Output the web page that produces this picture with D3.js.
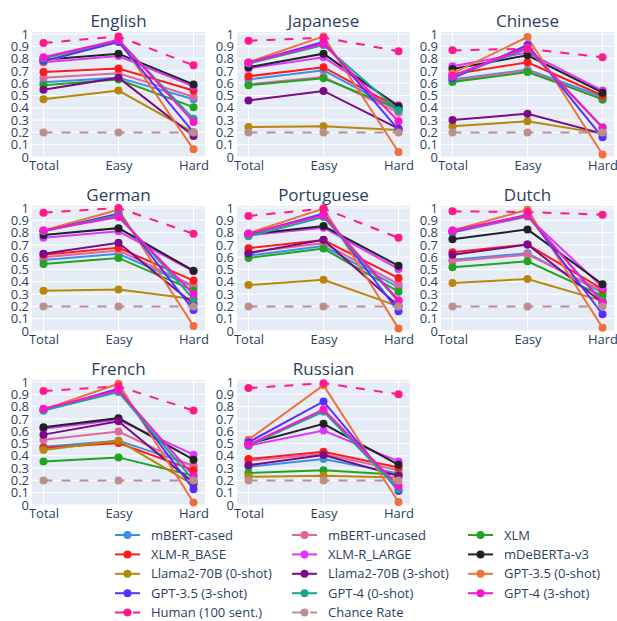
<!DOCTYPE html>
<html>
<head>
<meta charset="utf-8">
<script src="https://cdn.jsdelivr.net/npm/d3@7"></script>
<style>
  body { margin: 0; background: #fff; }
  svg { font-family: "Open Sans", verdana, arial, sans-serif; }
</style>
</head>
<body>
<div id="chart"></div>
<script>
// categories and series
const categories = ['Total', 'Easy', 'Hard'];
const languages = ['English', 'Japanese', 'Chinese', 'German', 'Portuguese', 'Dutch', 'French', 'Russian'];
const models = ['mBERT-cased', 'mBERT-uncased', 'XLM', 'XLM-R_BASE', 'XLM-R_LARGE', 'mDeBERTa-v3',
  'Llama2-70B (0-shot)', 'Llama2-70B (3-shot)', 'GPT-3.5 (0-shot)', 'GPT-3.5 (3-shot)',
  'GPT-4 (0-shot)', 'GPT-4 (3-shot)', 'Human (100 sent.)', 'Chance Rate'];
const colors = ['#3d8fe6', '#e0679b', '#22a322', '#ff1a1a', '#e033ff', '#222222',
  '#b8860b', '#7b0a86', '#f0703c', '#5630ff', '#16a58e', '#ff14cc', '#ff1a8c', '#bc8f8f'];
const dashed = ['Human (100 sent.)', 'Chance Rate'];

// one row per model, values for Total / Easy / Hard
const english = [
  [0.607, 0.645, 0.47], [0.645, 0.68, 0.49], [0.583, 0.63, 0.405], [0.69, 0.72, 0.54],
  [0.77, 0.82, 0.575], [0.79, 0.84, 0.59], [0.47, 0.54, 0.2], [0.547, 0.645, 0.17],
  [0.77, 0.955, 0.062], [0.78, 0.935, 0.2], [0.80, 0.95, 0.31], [0.81, 0.95, 0.285],
  [0.927, 0.98, 0.745], [0.2, 0.2, 0.2]];
const japanese = [
  [0.63, 0.705, 0.38], [0.59, 0.65, 0.36], [0.583, 0.64, 0.39], [0.656, 0.73, 0.40],
  [0.72, 0.81, 0.42], [0.73, 0.84, 0.41], [0.244, 0.25, 0.22], [0.46, 0.537, 0.23],
  [0.77, 0.98, 0.04], [0.765, 0.935, 0.22], [0.76, 0.91, 0.38], [0.767, 0.92, 0.29],
  [0.945, 0.97, 0.86], [0.2, 0.2, 0.2]];
const chinese = [
  [0.63, 0.71, 0.49], [0.62, 0.705, 0.466], [0.61, 0.69, 0.47], [0.672, 0.77, 0.50],
  [0.737, 0.85, 0.54], [0.715, 0.827, 0.523], [0.25, 0.29, 0.19], [0.30, 0.352, 0.19],
  [0.68, 0.975, 0.02], [0.64, 0.91, 0.16], [0.655, 0.88, 0.24], [0.66, 0.89, 0.24],
  [0.867, 0.88, 0.81], [0.2, 0.2, 0.2]];
const german = [
  [0.578, 0.627, 0.36], [0.60, 0.654, 0.368], [0.545, 0.594, 0.33], [0.62, 0.676, 0.41],
  [0.757, 0.81, 0.485], [0.78, 0.836, 0.49], [0.327, 0.338, 0.26], [0.627, 0.717, 0.22],
  [0.817, 0.986, 0.04], [0.81, 0.954, 0.17], [0.81, 0.94, 0.26], [0.817, 0.926, 0.30],
  [0.962, 1.0, 0.79], [0.2, 0.2, 0.2]];
const portuguese = [
  [0.613, 0.69, 0.354], [0.64, 0.714, 0.38], [0.594, 0.67, 0.32], [0.673, 0.74, 0.43],
  [0.777, 0.84, 0.504], [0.785, 0.853, 0.53], [0.373, 0.417, 0.2], [0.632, 0.741, 0.204],
  [0.795, 0.995, 0.02], [0.785, 0.954, 0.16], [0.77, 0.926, 0.24], [0.79, 0.94, 0.25],
  [0.935, 0.995, 0.757], [0.2, 0.2, 0.2]];
const dutch = [
  [0.58, 0.632, 0.313], [0.567, 0.62, 0.327], [0.518, 0.567, 0.286], [0.64, 0.703, 0.34],
  [0.80, 0.93, 0.355], [0.746, 0.826, 0.38], [0.39, 0.422, 0.245], [0.62, 0.703, 0.23],
  [0.817, 0.986, 0.027], [0.804, 0.945, 0.136], [0.81, 0.935, 0.24], [0.817, 0.94, 0.23],
  [0.973, 0.967, 0.945], [0.2, 0.2, 0.2]];
const french = [
  [0.474, 0.523, 0.32], [0.53, 0.597, 0.31], [0.354, 0.387, 0.237], [0.463, 0.504, 0.283],
  [0.62, 0.692, 0.409], [0.632, 0.706, 0.368], [0.447, 0.523, 0.163], [0.572, 0.68, 0.18],
  [0.774, 0.986, 0.02], [0.768, 0.946, 0.128], [0.768, 0.918, 0.2], [0.782, 0.932, 0.237],
  [0.926, 0.965, 0.768], [0.2, 0.2, 0.2]];
const russian = [
  [0.31, 0.373, 0.256], [0.36, 0.414, 0.283], [0.26, 0.283, 0.245], [0.373, 0.433, 0.305],
  [0.482, 0.605, 0.354], [0.496, 0.66, 0.327], [0.23, 0.237, 0.223], [0.324, 0.406, 0.237],
  [0.53, 0.973, 0.025], [0.51, 0.842, 0.114], [0.482, 0.76, 0.13], [0.49, 0.777, 0.155],
  [0.95, 0.99, 0.9], [0.2, 0.2, 0.2]];
const yTicks = [0, 0.1, 0.2, 0.3, 0.4, 0.5, 0.6, 0.7, 0.8, 0.9, 1];

const panelData = [english, japanese, chinese, german, portuguese, dutch, french, russian];

const W = 617, H = 621;
const colLeft = [32, 237, 441];
const rowTop = [32, 206, 380];
const pw = 173, ph = 125;
const fontColor = '#2a3f5f';

const svg = d3.select('#chart').append('svg')
  .attr('width', W).attr('height', H);

const x = d3.scalePoint().domain(categories).range([0, pw]).padding(0.153);
const y = d3.scaleLinear().domain([0, 1.016]).range([ph, 0]);

const line = d3.line()
  .x((d, i) => x(categories[i]))
  .y(d => y(d));

languages.forEach((lang, li) => {
  const left = colLeft[li % 3];
  const top = rowTop[Math.floor(li / 3)];
  const g = svg.append('g').attr('transform', `translate(${left},${top})`);

  g.append('rect')
    .attr('width', pw).attr('height', ph)
    .attr('fill', '#E5ECF6');

  // grid
  g.selectAll('.hgrid').data(yTicks).join('line')
    .attr('x1', 0).attr('x2', pw)
    .attr('y1', d => y(d)).attr('y2', d => y(d))
    .attr('stroke', '#fff').attr('stroke-width', 1);
  g.selectAll('.vgrid').data(categories).join('line')
    .attr('x1', d => x(d)).attr('x2', d => x(d))
    .attr('y1', 0).attr('y2', ph)
    .attr('stroke', '#fff').attr('stroke-width', 1);

  // y axis labels
  g.append('g')
    .call(d3.axisLeft(y).tickValues(yTicks).tickSize(0).tickPadding(3).tickFormat(d => d3.format('~g')(d)))
    .call(a => a.select('.domain').remove())
    .selectAll('text')
    .attr('font-size', '13px')
    .attr('font-family', '"Open Sans", verdana, arial, sans-serif')
    .attr('fill', fontColor);

  // x axis labels
  g.append('g')
    .attr('transform', `translate(0,${ph})`)
    .call(d3.axisBottom(x).tickSize(0).tickPadding(4))
    .call(a => a.select('.domain').remove())
    .selectAll('text')
    .attr('font-size', '13px')
    .attr('font-family', '"Open Sans", verdana, arial, sans-serif')
    .attr('fill', fontColor);

  // title
  g.append('text')
    .attr('x', pw / 2).attr('y', -5)
    .attr('text-anchor', 'middle')
    .attr('font-size', '17px')
    .attr('fill', fontColor)
    .text(lang);

  const data = panelData[li];
  models.forEach((m, mi) => {
    const vals = data[mi];
    const tg = g.append('g');
    tg.append('path')
      .attr('d', line(vals))
      .attr('fill', 'none')
      .attr('stroke', colors[mi])
      .attr('stroke-width', 2)
      .attr('stroke-dasharray', dashed.includes(m) ? '9,9' : null);
    tg.selectAll('circle').data(vals).join('circle')
      .attr('cx', (d, i) => x(categories[i]))
      .attr('cy', d => y(d))
      .attr('r', 4)
      .attr('fill', colors[mi]);
  });
});

// legend
const legCols = [115, 292, 468];
const legRow0 = 535, legStep = 19.4;
const legend = svg.append('g');
models.forEach((m, mi) => {
  const lx = legCols[mi % 3];
  const ly = legRow0 + Math.floor(mi / 3) * legStep;
  const lg = legend.append('g').attr('transform', `translate(${lx},${ly})`);
  lg.append('line')
    .attr('x1', 0).attr('x2', 25).attr('y1', 0).attr('y2', 0)
    .attr('stroke', colors[mi]).attr('stroke-width', 2)
    .attr('stroke-dasharray', dashed.includes(m) ? '9,9' : null);
  lg.append('circle').attr('cx', 12.5).attr('cy', 0).attr('r', 4).attr('fill', colors[mi]);
  lg.append('text')
    .attr('x', 36).attr('y', 0)
    .attr('dy', '0.35em')
    .attr('font-size', '13px')
    .attr('fill', fontColor)
    .text(m);
});
</script>
</body>
</html>
